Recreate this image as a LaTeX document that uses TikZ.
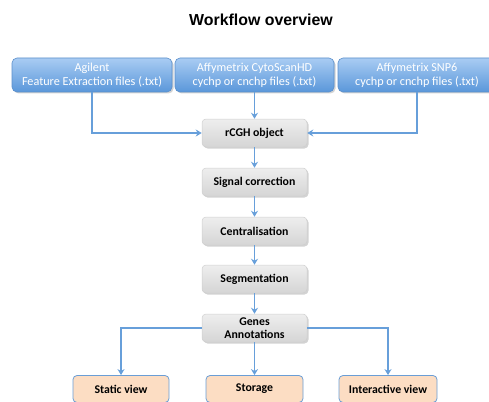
\documentclass[tikz,border=0pt]{standalone}
\usepackage{fontspec}
\setmainfont{Carlito}
\newfontfamily\titlefont{Liberation Sans}
\usetikzlibrary{shadows,arrows.meta}
\definecolor{btop}{HTML}{A9CCF3}
\definecolor{bbot}{HTML}{5A97DA}
\definecolor{bdraw}{HTML}{5B8FCB}
\definecolor{gtop}{HTML}{EEEEEE}
\definecolor{gbot}{HTML}{D5D5D5}
\definecolor{gdraw}{HTML}{CFCFCF}
\definecolor{peach}{HTML}{FCDDC3}
\definecolor{pdraw}{HTML}{6A9ED6}
\definecolor{arrc}{HTML}{679FDA}
\tikzset{
  inbox/.style={draw=bdraw, line width=0.6pt, rounded corners=5pt, top color=btop, bottom color=bbot,
    text=white, align=center, font=\fontsize{12.2}{14}\selectfont, inner sep=0pt,
    drop shadow={shadow xshift=1.5pt, shadow yshift=-1.5pt, opacity=0.35}},
  stepbox/.style={draw=gdraw, line width=0.5pt, rounded corners=4pt, top color=gtop, bottom color=gbot,
    align=center, font=\bfseries\fontsize{11.8}{13}\selectfont, inner sep=0pt, minimum width=105pt, minimum height=28pt,
    drop shadow={shadow xshift=1.5pt, shadow yshift=-1.5pt, opacity=0.35}},
  outbox/.style={draw=pdraw, line width=0.8pt, rounded corners=4pt, fill=peach,
    font=\bfseries\fontsize{11.8}{13}\selectfont, inner sep=0pt, minimum width=96pt, minimum height=27pt},
  arr/.style={draw=arrc, line width=1.4pt, -{Stealth[length=6pt,width=7pt]}},
  ln/.style={draw=arrc, line width=1.4pt}
}
\begin{document}
\begin{tikzpicture}[x=1pt,y=1pt]
\useasboundingbox (0,0) rectangle (489,-401);
\node[font=\titlefont\bfseries\fontsize{15.9}{18}\selectfont] (title) at (261,-20) {Workflow overview};

\node[inbox, minimum width=160pt, minimum height=34pt] (agilent) at (92,-75) {Agilent\\Feature Extraction files (.txt)};
\node[inbox, minimum width=159pt, minimum height=34pt] (cyto) at (254.5,-75) {Affymetrix CytoScanHD\\cychp or cnchp files (.txt)};
\node[inbox, minimum width=158pt, minimum height=34pt] (snp) at (417,-75) {Affymetrix SNP6\\cychp or cnchp files (.txt)};

\node[stepbox] (rcgh) at (254.5,-133) {rCGH object};
\node[stepbox] (signal) at (254.5,-182) {Signal correction};
\node[stepbox] (central) at (254.5,-231) {Centralisation};
\node[stepbox] (seg) at (254.5,-279) {Segmentation};
\node[stepbox, font=\bfseries\fontsize{11.8}{13.5}\selectfont] (genes) at (254.5,-328) {Genes\\Annotations};

\node[outbox] (static) at (121,-389) {Static view};
\node[outbox, minimum width=97pt] (storage) at (254.5,-389) {Storage};
\node[outbox, minimum width=98pt] (inter) at (388,-389) {Interactive view};

\draw[arr] (agilent.south) |- (rcgh.west);
\draw[arr] (cyto.south) -- (rcgh.north);
\draw[arr] (snp.south) |- (rcgh.east);
\draw[arr] (rcgh.south) -- (signal.north);
\draw[arr] (signal.south) -- (central.north);
\draw[arr] (central.south) -- (seg.north);
\draw[arr] (seg.south) -- (genes.north);
\draw[arr] (genes.west) -| (static.north);
\draw[arr] (genes.south) -- (storage.north);
\draw[arr] (genes.east) -| (inter.north);
\end{tikzpicture}
\end{document}
